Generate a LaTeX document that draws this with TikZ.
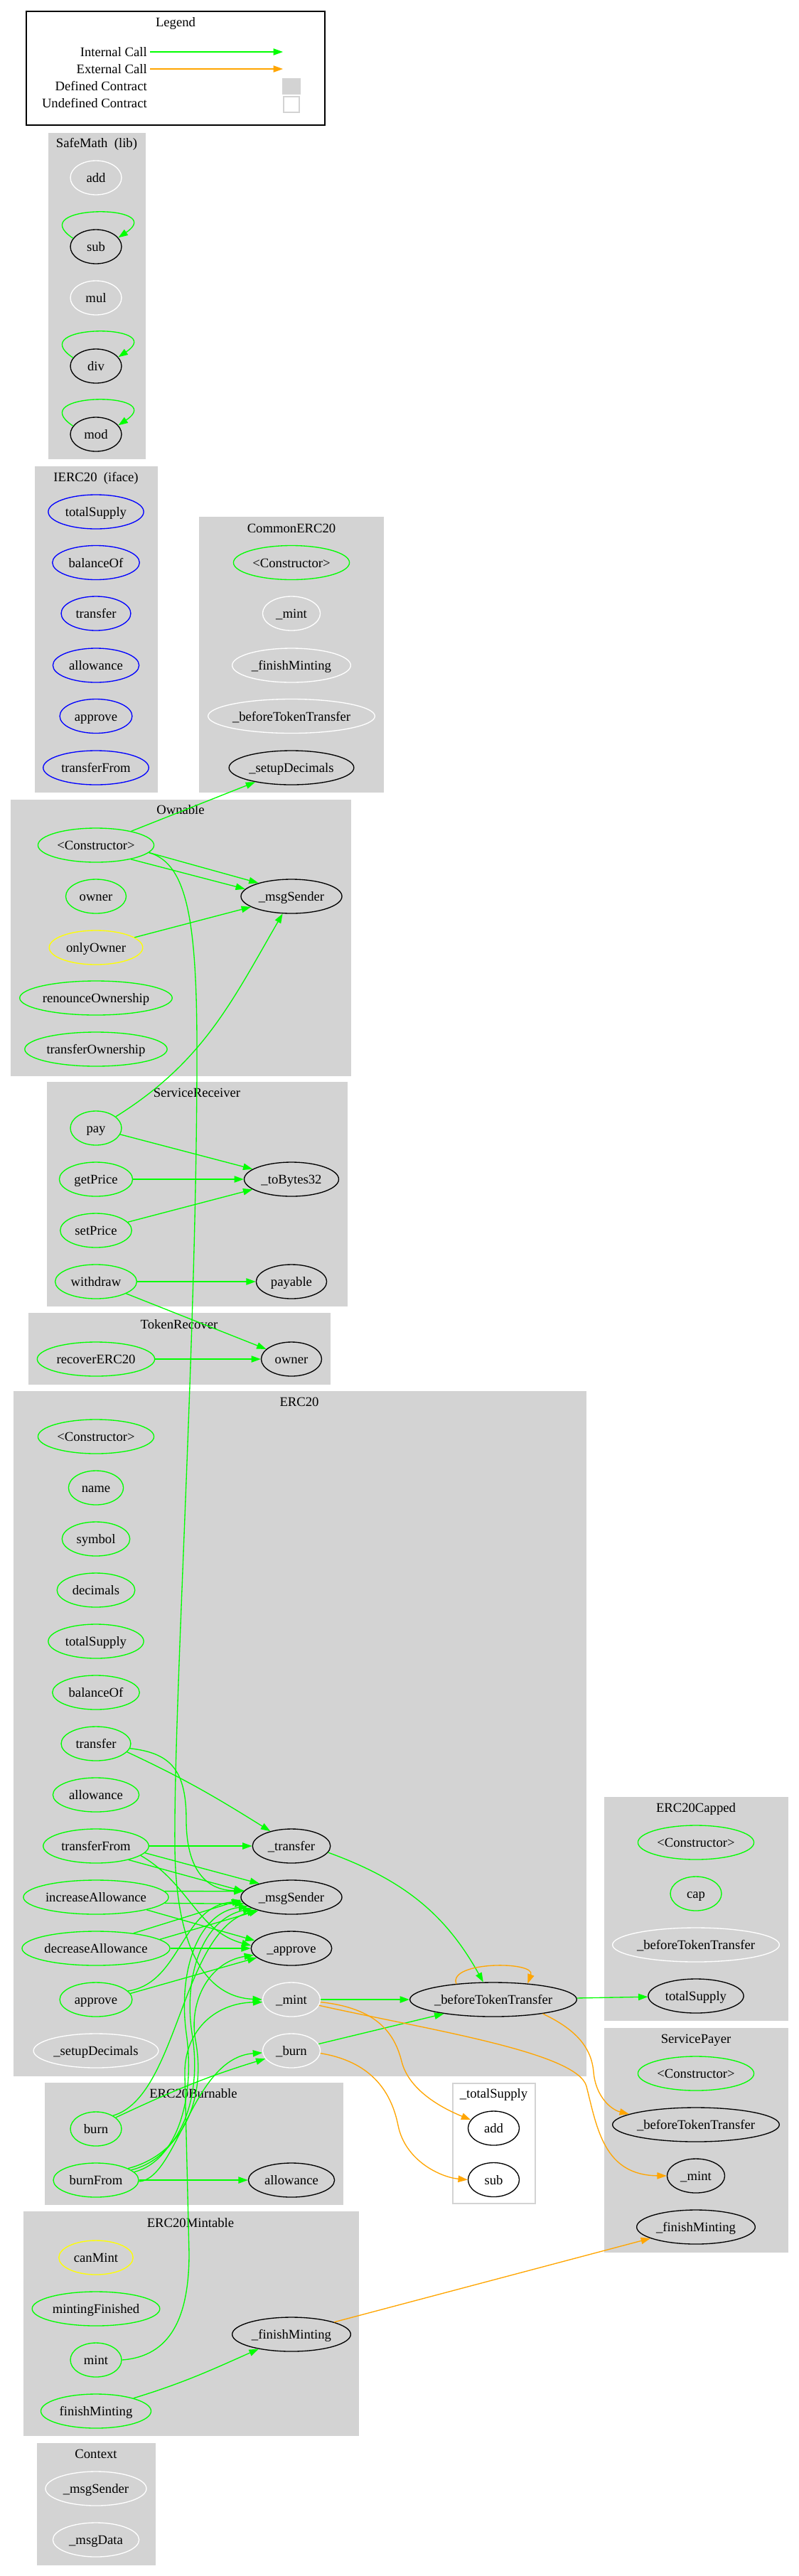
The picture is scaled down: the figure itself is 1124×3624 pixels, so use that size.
\documentclass[tikz,border=0pt]{standalone}
\usepackage{fontspec}
\setmainfont{Liberation Serif}
\usepackage{tikz}
\usetikzlibrary{arrows.meta,shapes.geometric}
\definecolor{callInk}{HTML}{000000}
\definecolor{callInt}{HTML}{00FF00}
\definecolor{callExt}{HTML}{FFA500}
\definecolor{boxGray}{HTML}{D3D3D3}
\definecolor{fnPublic}{HTML}{00FF00}
\definecolor{fnIface}{HTML}{0000FF}
\definecolor{fnModifier}{HTML}{FFFF00}
\definecolor{fnHidden}{HTML}{FFFFFF}
\definecolor{fnUndef}{HTML}{000000}
\tikzset{
  every picture/.style={font=\fontsize{14pt}{17pt}\selectfont, text=callInk},
  contract box/.style={fill=boxGray, draw=boxGray, line width=0.75pt},
  undef box/.style={fill=white, draw=boxGray, line width=1pt},
  contract title/.style={inner sep=0pt, text height=12.5pt, text depth=2.5pt},
  fn/.style={ellipse, draw=#1, line width=1pt, inner xsep=0pt, inner ysep=1pt,
    text height=12.5pt, text depth=2.5pt, minimum height=36pt,
    minimum width={max(54pt,1.25*\wd\pgfnodeparttextbox+20pt)}},
  call int/.style={-{Triangle[length=10pt,width=7pt]}, draw=callInt, line width=1pt},
  call ext/.style={-{Triangle[length=10pt,width=7pt]}, draw=callExt, line width=1pt}
}
\begin{document}
\begin{tikzpicture}[x=0.75pt,y=0.75pt]
  \useasboundingbox (0,0) rectangle (1124,-3624);
  % legend
  \draw[line width=1pt, draw=callInk] (37,-16) rectangle (457,-176);
  \node[contract title] (legTitle) at (247,-31) {Legend};
  \node[contract title, anchor=east] (legInternal) at (207,-73) {Internal Call};
  \node[contract title, anchor=east] (legExternal) at (207,-97) {External Call};
  \node[contract title, anchor=east] (legDefined) at (207,-121) {Defined Contract};
  \node[contract title, anchor=east] (legUndefined) at (207,-145) {Undefined Contract};
  \coordinate (legIntFrom) at (211,-73);
  \coordinate (legIntTo) at (398,-73);
  \coordinate (legExtFrom) at (211,-97);
  \coordinate (legExtTo) at (398,-97);
  \draw[call int] (legIntFrom) -- (legIntTo);
  \draw[call ext] (legExtFrom) -- (legExtTo);
  \fill[boxGray] (397,-110) rectangle (423,-133);
  \draw[undef box] (399,-136) rectangle (421,-158);

  % SafeMath
  \path[contract box] (68,-187) rectangle (204,-645);
  \node[contract title] (smTitle) at (136,-201) {SafeMath\ \ (lib)};
  \foreach \id/\txt/\y/\col in {Add/add/250/fnHidden, Sub/sub/347/fnUndef, Mul/mul/419/fnHidden, Div/div/515/fnUndef, Mod/mod/611/fnUndef}
    \node[fn=\col] (sm\id) at (135,-\y) {\txt};

  % IERC20
  \path[contract box] (49,-656) rectangle (221,-1114);
  \node[contract title] (ieTitle) at (135,-671) {IERC20\ \ (iface)};
  \foreach \id/\txt/\y in {TotalSupply/totalSupply/720, BalanceOf/balanceOf/791.5, Transfer/transfer/863, Allowance/allowance/936, Approve/approve/1007.5, TransferFrom/transferFrom/1080}
    \node[fn=fnIface] (ie\id) at (135,-\y) {\txt};

  % CommonERC20
  \path[contract box] (280,-727) rectangle (539,-1114);
  \node[contract title] (ceTitle) at (410,-743) {CommonERC20};
  \foreach \id/\txt/\y/\col in {Ctor/<Constructor>/791.5/fnPublic, Mint/\_mint/863/fnHidden, Finish/\_finishMinting/936/fnHidden, Before/\_beforeTokenTransfer/1007.5/fnHidden, Setup/\_setupDecimals/1080/fnUndef}
    \node[fn=\col] (ce\id) at (410,-\y) {\txt};

  % Ownable
  \path[contract box] (15,-1125) rectangle (493,-1513);
  \node[contract title] (owTitle) at (254,-1139) {Ownable};
  \foreach \id/\txt/\y/\col in {Ctor/<Constructor>/1189/fnPublic, Owner/owner/1261/fnPublic, Only/onlyOwner/1333/fnModifier, Renounce/renounceOwnership/1404/fnPublic, Transfer/transferOwnership/1476/fnPublic}
    \node[fn=\col] (ow\id) at (135,-\y) {\txt};
  \node[fn=fnUndef] (owMsgSender) at (410,-1261) {\_msgSender};

  % ServiceReceiver
  \path[contract box] (66,-1522) rectangle (488,-1837);
  \node[contract title] (srTitle) at (277,-1537) {ServiceReceiver};
  \foreach \id/\txt/\y in {Pay/pay/1587, GetPrice/getPrice/1659, SetPrice/setPrice/1731, Withdraw/withdraw/1803}
    \node[fn=fnPublic] (sr\id) at (135,-\y) {\txt};
  \node[fn=fnUndef] (srToBytes) at (410,-1659) {\_toBytes32};
  \node[fn=fnUndef] (srPayable) at (410,-1803) {payable};

  % TokenRecover
  \path[contract box] (40,-1847) rectangle (464,-1947);
  \node[contract title] (trTitle) at (252,-1863) {TokenRecover};
  \node[fn=fnPublic] (trRecover) at (135,-1912) {recoverERC20};
  \node[fn=fnUndef] (trOwner) at (410,-1912) {owner};

  % ERC20
  \path[contract box] (19,-1957) rectangle (824,-2920);
  \node[contract title] (ezTitle) at (421,-1972) {ERC20};
  \foreach \id/\txt/\y/\col in {Ctor/<Constructor>/2021/fnPublic, Name/name/2093/fnPublic, Symbol/symbol/2165/fnPublic, Decimals/decimals/2237/fnPublic, TotalSupply/totalSupply/2309/fnPublic, BalanceOf/balanceOf/2381/fnPublic, Transfer/transfer/2453/fnPublic, Allowance/allowance/2525/fnPublic, TransferFrom/transferFrom/2597/fnPublic, Increase/increaseAllowance/2669/fnPublic, Decrease/decreaseAllowance/2741/fnPublic, Approve/approve/2813/fnPublic, Setup/\_setupDecimals/2885/fnHidden}
    \node[fn=\col] (ez\id) at (135,-\y) {\txt};
  \foreach \id/\txt/\y/\col in {UTransfer/\_transfer/2597/fnUndef, MsgSender/\_msgSender/2669/fnUndef, UApprove/\_approve/2741/fnUndef, Mint/\_mint/2813/fnHidden, Burn/\_burn/2885/fnHidden}
    \node[fn=\col] (ez\id) at (410,-\y) {\txt};
  \node[fn=fnUndef] (ezBefore) at (694,-2813) {\_beforeTokenTransfer};

  % ERC20Capped
  \path[contract box] (850,-2528) rectangle (1108,-2842);
  \node[contract title] (capTitle) at (979,-2543) {ERC20Capped};
  \foreach \id/\txt/\y/\col in {Ctor/<Constructor>/2592/fnPublic, Cap/cap/2664/fnPublic, Before/\_beforeTokenTransfer/2736/fnHidden, Total/totalSupply/2808/fnUndef}
    \node[fn=\col] (cap\id) at (979,-\y) {\txt};

  % ServicePayer
  \path[contract box] (850,-2853) rectangle (1108,-3168);
  \node[contract title] (spTitle) at (979,-2868) {ServicePayer};
  \foreach \id/\txt/\y/\col in {Ctor/<Constructor>/2917/fnPublic, Before/\_beforeTokenTransfer/2989/fnUndef, Mint/\_mint/3061/fnUndef, Finish/\_finishMinting/3133/fnUndef}
    \node[fn=\col] (sp\id) at (979,-\y) {\txt};

  % _totalSupply
  \path[undef box] (637,-2931) rectangle (753,-3100);
  \node[contract title] (tsTitle) at (694.5,-2945) {\_totalSupply};
  \node[fn=fnUndef] (tsAdd) at (694.5,-2994) {add};
  \node[fn=fnUndef] (tsSub) at (694.5,-3066.5) {sub};

  % ERC20Burnable
  \path[contract box] (63,-2930) rectangle (482,-3101);
  \node[contract title] (ebTitle) at (272,-2945) {ERC20Burnable};
  \node[fn=fnPublic] (ebBurn) at (135,-2995) {burn};
  \node[fn=fnPublic] (ebBurnFrom) at (135,-3067) {burnFrom};
  \node[fn=fnUndef] (ebAllowance) at (410,-3067) {allowance};

  % ERC20Mintable
  \path[contract box] (33,-3111) rectangle (504,-3426);
  \node[contract title] (emTitle) at (268,-3127) {ERC20Mintable};
  \foreach \id/\txt/\y/\col in {CanMint/canMint/3176/fnModifier, Finished/mintingFinished/3248/fnPublic, Mint/mint/3320/fnPublic, FinishMinting/finishMinting/3392/fnPublic}
    \node[fn=\col] (em\id) at (135,-\y) {\txt};
  \node[fn=fnUndef] (emUFinish) at (410,-3284) {\_finishMinting};

  % Context
  \path[contract box] (52,-3437) rectangle (218,-3608);
  \node[contract title] (cxTitle) at (135,-3452) {Context};
  \node[fn=fnHidden] (cxMsgSender) at (135,-3501) {\_msgSender};
  \node[fn=fnHidden] (cxMsgData) at (135,-3573) {\_msgData};

  % calls
  \foreach \id in {Sub,Div,Mod}
    \draw[call int] (sm\id.160) .. controls +(-72,48) and +(72,48) .. (sm\id.22);
  \draw[call int] (owCtor) -- (ceSetup);
  \draw[call int] (owCtor.-8) -- (owMsgSender.158);
  \draw[call int] (owCtor.-22) -- (owMsgSender.171);
  \draw[call int] (owOnly) -- (owMsgSender);
  \draw[call int] (owCtor.-8) .. controls (265,-1215) and (278,-1300) .. (277,-1500)
    .. controls (276,-1900) and (244,-2400) .. (246,-2600)
    .. controls (248,-2760) and (300,-2810) .. (ezMint.west);
  \draw[call int] (srPay.30) to[out=32,in=-120] (owMsgSender.243);
  \draw[call int] (srPay) -- (srToBytes);
  \draw[call int] (srGetPrice) -- (srToBytes);
  \draw[call int] (srSetPrice) -- (srToBytes);
  \draw[call int] (srWithdraw) -- (srPayable);
  \draw[call int] (srWithdraw) -- (trOwner);
  \draw[call int] (trRecover) -- (trOwner);
  \draw[call int] (ezTransfer.-15) to[out=-25,in=148] (ezUTransfer.145);
  \draw[call int] (ezTransfer.-8) .. controls (240,-2466) and (262,-2490) .. (262,-2560)
    .. controls (262,-2630) and (290,-2660) .. (ezMsgSender.172);
  \draw[call int] (ezTransferFrom) -- (ezUTransfer);
  \draw[call int] (ezTransferFrom.-8) -- (ezMsgSender.157);
  \draw[call int] (ezTransferFrom.-23) -- (ezMsgSender.173);
  \draw[call int] (ezTransferFrom.-12) to[out=-30,in=165] (ezUApprove.176);
  \draw[call int] (ezIncrease.5) -- (ezMsgSender.173);
  \draw[call int] (ezIncrease.-5) -- (ezMsgSender.188);
  \draw[call int] (ezIncrease.-14) -- (ezUApprove.168);
  \draw[call int] (ezDecrease.22) -- (ezMsgSender.183);
  \draw[call int] (ezDecrease.8) -- (ezMsgSender.202);
  \draw[call int] (ezDecrease) -- (ezUApprove);
  \draw[call int] (ezApprove.15) .. controls (255,-2790) and (255,-2680) .. (ezMsgSender.185);
  \draw[call int] (ezApprove.10) -- (ezUApprove.195);
  \draw[call int] (ezUTransfer.-10) to[out=-20,in=119] (ezBefore.120);
  \draw[call int] (ezMint) -- (ezBefore);
  \draw[call int] (ezBurn.14) -- (ezBefore.196);
  \draw[call int] (ezBefore) -- (capTotal);
  \draw[call ext] (ezBefore.157) .. controls +(-12,32) and +(12,32) .. (ezBefore.25);
  \draw[call ext] (ezMint.-5) .. controls (530,-2825) and (555,-2860) .. (565,-2900)
    .. controls (575,-2940) and (620,-2965) .. (tsAdd.160);
  \draw[call ext] (ezMint.-12) .. controls (600,-2855) and (812,-2887) .. (825,-2935)
    .. controls (840,-2995) and (850,-3060) .. (spMint.west);
  \draw[call ext] (ezBurn.-5) .. controls (520,-2900) and (550,-2940) .. (560,-2990)
    .. controls (570,-3040) and (620,-3063) .. (tsSub.west);
  \draw[call ext] (ezBefore.-16) .. controls (810,-2855) and (832,-2880) .. (835,-2915)
    .. controls (838,-2950) and (860,-2968) .. (spBefore.171);
  \draw[call int] (ebBurn.30) to[out=25,in=197] (ezBurn.197);
  \draw[call int] (ebBurn.38) .. controls (250,-2950) and (255,-2720) .. (ezMsgSender.200);
  \draw[call int] (ebBurnFrom.-2) .. controls (250,-3065) and (270,-2895) .. (ezBurn.184);
  \draw[call int] (ebBurnFrom.12) .. controls (250,-3040) and (275,-2950) .. (262,-2860)
    .. controls (250,-2770) and (280,-2690) .. (ezMsgSender.192);
  \draw[call int] (ebBurnFrom.16) .. controls (255,-3035) and (285,-2950) .. (270,-2860)
    .. controls (258,-2780) and (285,-2700) .. (ezMsgSender.196);
  \draw[call int] (ebBurnFrom.20) .. controls (260,-3030) and (290,-2950) .. (275,-2870)
    .. controls (265,-2815) and (295,-2760) .. (ezUApprove.190);
  \draw[call int] (ebBurnFrom) -- (ebAllowance);
  \draw[call int] (emMint.east) .. controls (240,-3315) and (266,-3260) .. (266,-3170)
    -- (260,-2920) .. controls (258,-2860) and (300,-2818) .. (ezMint.185);
  \draw[call int] (emFinishMinting.19) to[out=17,in=204] (emUFinish.204);
  \draw[call ext] (emUFinish.16) -- (spFinish.194);
\end{tikzpicture}
\end{document}
